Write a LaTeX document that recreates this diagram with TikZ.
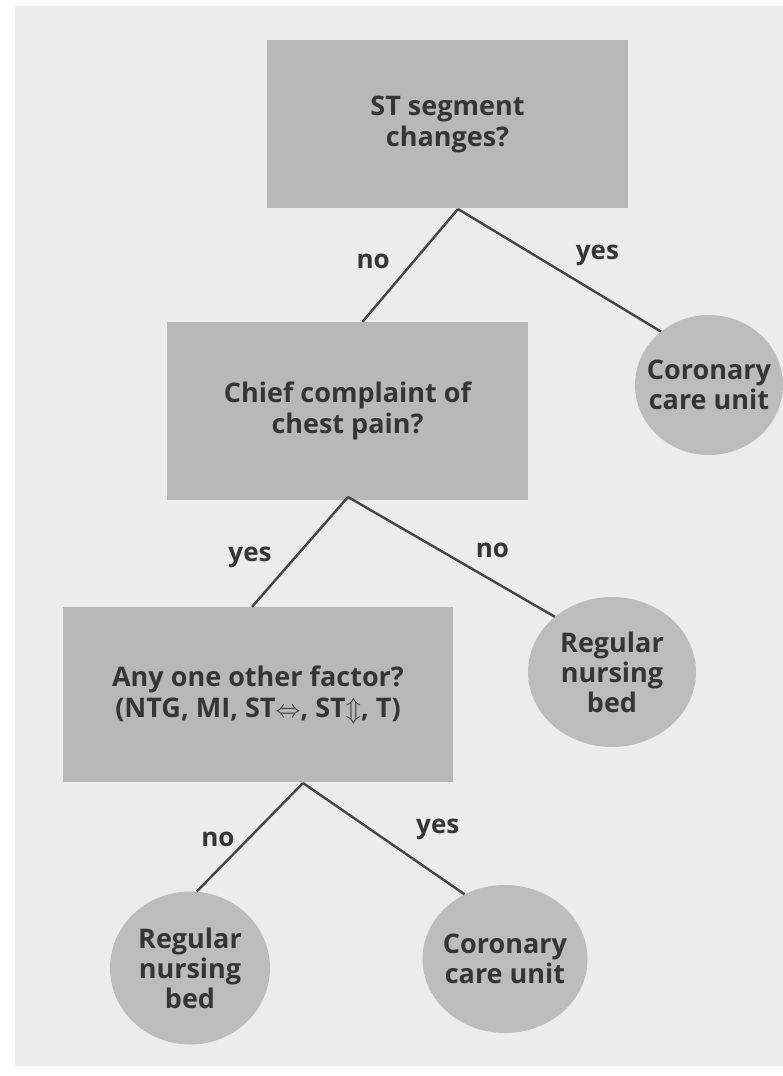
\documentclass[tikz,border=0pt]{standalone}
\usepackage{fontspec}
\setmainfont{Open Sans}
\usetikzlibrary{shapes.geometric}
\definecolor{paper}{HTML}{ECECEC}
\definecolor{boxgray}{HTML}{B8B8B8}
\definecolor{endgray}{HTML}{BCBCBC}
\definecolor{ink}{HTML}{353535}
\definecolor{wire}{HTML}{454545}
\begin{document}
\begin{tikzpicture}[x=1pt, y=-1pt,
    question/.style={rectangle, fill=boxgray, inner sep=0pt, align=center, text=ink,
        font=\fontsize{27}{31}\selectfont\bfseries},
    outcome/.style={ellipse, fill=endgray, inner xsep=-12pt, inner ysep=-8pt, align=center, text=ink,
        font=\fontsize{27}{30}\selectfont\bfseries},
    branch/.style={draw=wire, line width=2.4pt},
    answer/.style={text=ink, font=\fontsize{26}{30}\selectfont\bfseries}]
    \useasboundingbox (0,0) rectangle (783,1076);
    \fill[white] (0,0) rectangle (783,1076);
    \fill[paper] (15,6) rectangle (783,1066);
    % decision boxes
    \node[question, minimum width=361pt, minimum height=168pt] (q1) at (447.5,124) {ST segment\\changes?};
    \node[question, minimum width=361pt, minimum height=178pt] (q2) at (347.5,411) {Chief complaint of\\chest pain?};
    \node[question, minimum width=390pt, minimum height=175pt] (q3) at (258,694.5) {Any one other factor?\\(NTG, MI, ST$\Leftrightarrow$, ST$\Updownarrow$, T)};
    % end points
    \node[outcome, minimum width=148pt, minimum height=140pt] (c1) at (709,385) {Coronary\\care unit};
    \node[outcome, minimum width=168pt, minimum height=150pt] (r1) at (612,672) {Regular\\nursing\\bed};
    \node[outcome, minimum width=160pt, minimum height=153pt] (r2) at (190,968) {Regular\\nursing\\bed};
    \node[outcome, minimum width=165pt, minimum height=148pt] (c2) at (505,959) {Coronary\\care unit};
    % branch points
    \coordinate (b1) at (458,209);
    \coordinate (b2) at (348,497);
    \coordinate (b3) at (303,783);
    \draw[branch] (b1) -- ([xshift=15pt]q2.north) node[answer, midway, xshift=-37pt, yshift=4pt] (n1) {no};
    \draw[branch] (b1) -- (c1.132) node[answer, midway, xshift=38pt, yshift=15pt] (y1) {yes};
    \draw[branch] (b2) -- ([xshift=-6pt]q3.north) node[answer, midway, xshift=-50pt, yshift=-5pt] (y2) {yes};
    \draw[branch] (b2) -- (r1.136) node[answer, midway, xshift=41pt, yshift=7pt] (n2) {no};
    \draw[branch] (b3) -- (r2.85) node[answer, midway, xshift=-32pt, yshift=-2pt] (n3) {no};
    \draw[branch] (b3) -- (c2.122) node[answer, midway, xshift=54pt, yshift=9pt] (y3) {yes};
\end{tikzpicture}
\end{document}
